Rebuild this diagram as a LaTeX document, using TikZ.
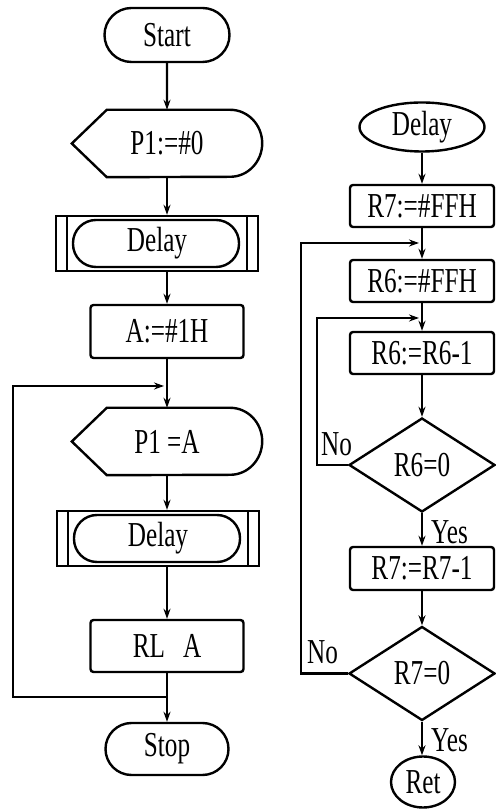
\documentclass[tikz,border=0pt]{standalone}
\usepackage{fontspec}
\setmainfont{Liberation Serif}[FakeStretch=0.72]
\usetikzlibrary{arrows.meta, positioning, shapes.geometric, shapes.misc, calc}

\tikzset{
  flowline/.style={line width=2.4pt},
  flow/.style={flowline, -{Stealth[length=10pt,width=7pt]}},
  termbox/.style={draw, flowline, rounded rectangle, minimum width=125pt,
    minimum height=54pt, inner sep=0pt},
  procbox/.style={draw, flowline, rectangle, rounded corners=3pt,
    minimum width=153pt, minimum height=53pt, inner sep=0pt},
  regbox/.style={procbox, minimum width=144pt, minimum height=42pt},
  dispbox/.style={minimum width=190pt, minimum height=67pt, inner sep=0pt},
  subbox/.style={draw, flowline, rectangle, minimum width=202pt,
    minimum height=55pt, inner sep=0pt,
    path picture={
      \draw[flowline] ([xshift=11pt]path picture bounding box.north west)
        -- ([xshift=11pt]path picture bounding box.south west);
      \draw[flowline] ([xshift=-11pt]path picture bounding box.north east)
        -- ([xshift=-11pt]path picture bounding box.south east);
      \draw[flowline, rounded corners=23pt]
        ([shift={(17pt,-4pt)}]path picture bounding box.north west) rectangle
        ([shift={(-19pt,4pt)}]path picture bounding box.south east);
    }},
  testbox/.style={draw, flowline, diamond, minimum width=146pt,
    minimum height=94pt, inner sep=0pt},
  callbox/.style={draw, flowline, ellipse, minimum width=125pt,
    minimum height=49pt, inner sep=0pt},
  lbl/.style={inner sep=1pt}
}

% outline of the output (display) symbol round a dispbox node
\newcommand{\displine}[1]{%
  \draw[flowline] (#1.west) -- ([xshift=35pt]#1.north west)
    -- ([xshift=-32pt]#1.north east)
    arc[start angle=90, end angle=-90, x radius=32pt, y radius=33.5pt]
    -- ([xshift=35pt]#1.south west) -- cycle;}

\begin{document}
\begin{tikzpicture}[x=1pt, y=1pt, font=\fontsize{35}{38}\selectfont]
  \useasboundingbox (0,0) rectangle (495,810);

  % Main program
  \node[termbox] (start) at (167,775) {Start};
  \node[dispbox] (p1z) at (167,666.5) {P1:=\#0};
  \displine{p1z}
  \node[subbox] (d1) at (157,566.5) {Delay};
  \node[procbox] (a1h) at (167,478.5) {A:=\#1H};
  \node[dispbox] (p1a) at (167,368.5) {P1 =A};
  \displine{p1a}
  \node[subbox] (d2) at (158,271.5) {Delay};
  \node[procbox, minimum height=52pt] (rla) at (167,164) {RL\hspace{18pt}A};
  \node[termbox, minimum width=123pt, minimum height=52pt] (stop) at (167,61) {Stop};

  \draw[flow] (start) -- (p1z);
  \draw[flow] (p1z) -- (p1z.south |- d1.north);
  \draw[flow] (d1.south -| a1h) -- (a1h);
  \draw[flow] (a1h) -- (p1a);
  \draw[flow] (p1a) -- (p1a.south |- d2.north);
  \draw[flow] (d2.south -| rla) -- (rla);
  \draw[flow] (rla) -- (stop);

  % loop back
  \coordinate (lb) at (13,113);
  \coordinate (lt) at (13,424);
  \draw[flow] (rla.south |- lb) -- (lb) -- (lt) -- ([xshift=-3pt]a1h.south |- lt);

  % Delay subroutine
  \node[callbox] (dly) at (422,683) {Delay};
  \node[regbox] (r7f) at (422,604) {R7:=\#FFH};
  \node[regbox] (r6f) at (422,529) {R6:=\#FFH};
  \node[regbox] (r6d) at (422,457) {R6:=R6-1};
  \node[testbox] (t6) at (422,345) {R6=0};
  \node[regbox, minimum height=43pt] (r7d) at (422,241.5) {R7:=R7-1};
  \node[testbox] (t7) at (422,136.5) {R7=0};
  \node[callbox, minimum width=64pt, minimum height=51pt] (ret) at (423,28) {Ret};

  \draw[flow] (dly) -- (r7f);
  \draw[flow] (r7f) -- (r6f);
  \draw[flow] (r6f) -- (r6d);
  \draw[flow] (r6d) -- (t6);
  \draw[flow] (t6) -- (r7d);
  \draw[flow] (r7d) -- (t7);
  \draw[flow] (t7.south) -- (t7.south |- ret.north);

  % inner and outer loops
  \coordinate (c6) at (317,345);
  \coordinate (i6) at (317,492);
  \coordinate (c7) at (301,136.5);
  \coordinate (i7) at (301,567);
  \draw[flow] (t6.west) -- (c6) -- (i6) -- ([xshift=-3pt]r6d.north |- i6);
  \draw[flow] (t7.west) -- (c7) -- (i7) -- ([xshift=-3pt]r6f.north |- i7);

  \node[lbl, anchor=south west] (no6) at ([shift={(3pt,8pt)}]c6) {No};
  \node[lbl, anchor=south west] (no7) at ([shift={(5pt,8pt)}]c7) {No};
  \node[lbl, anchor=north west] (yes6) at ([shift={(8pt,-6pt)}]t6.south) {Yes};
  \node[lbl, anchor=north west] (yes7) at ([shift={(8pt,-6pt)}]t7.south) {Yes};
\end{tikzpicture}
\end{document}
